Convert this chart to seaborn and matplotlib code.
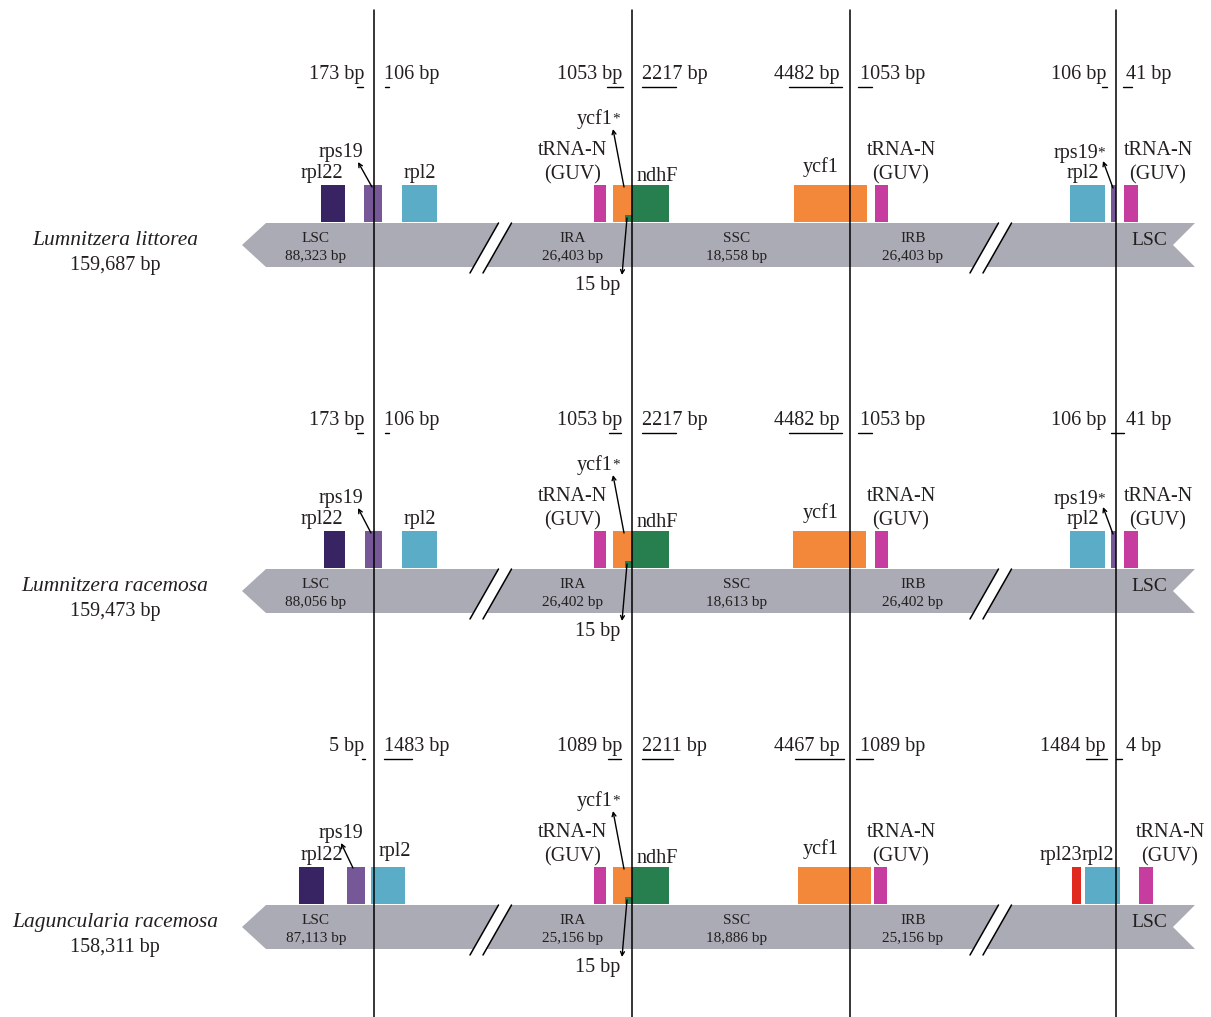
import matplotlib
matplotlib.use("Agg")
import matplotlib.pyplot as plt
from matplotlib.patches import Polygon
import seaborn as sns

# ---------------- data ----------------
species = ["Lumnitzera littorea", "Lumnitzera racemosa", "Laguncularia racemosa"]
genome_bp = ["159,687 bp", "159,473 bp", "158,311 bp"]
lsc_bp = ["88,323 bp", "88,056 bp", "87,113 bp"]
ira_bp = ["26,403 bp", "26,402 bp", "25,156 bp"]
ssc_bp = ["18,558 bp", "18,613 bp", "18,886 bp"]
irb_bp = ["26,403 bp", "26,402 bp", "25,156 bp"]

# junctions JLB, JSB, JSA, JLA (map position)
junctions = [374, 632, 850, 1116]

# distance labels left / right of each junction
dist_left = [["173 bp", "1053 bp", "4482 bp", "106 bp"],
             ["173 bp", "1053 bp", "4482 bp", "106 bp"],
             ["5 bp", "1089 bp", "4467 bp", "1484 bp"]]
dist_right = [["106 bp", "2217 bp", "1053 bp", "41 bp"],
              ["106 bp", "2217 bp", "1053 bp", "41 bp"],
              ["1483 bp", "2211 bp", "1089 bp", "4 bp"]]
# extent of the distance bars (map position)
bar_left = [[(357, 363), (607, 623), (789, 842), (1102, 1107)],
            [(357, 363), (609, 621), (789, 842), (1111, 1116)],
            [(362, 365), (608, 621), (795, 844), (1086, 1107)]]
bar_right = [[(385, 389), (642, 676), (858, 872), (1123, 1132)],
             [(385, 389), (642, 676), (858, 872), (1116, 1124)],
             [(384, 412), (642, 673), (856, 873), (1116, 1122)]]

# genes: (name, start, end) in map position
genes_r1 = [("rpl22", 321, 345), ("rps19", 364, 382), ("rpl2", 402, 437),
            ("trnN", 594, 606), ("ycf1", 613, 632), ("ndhF", 632, 669),
            ("ycf1", 794, 867), ("trnN", 875, 888),
            ("rpl2", 1070, 1105), ("rps19", 1111, 1116), ("trnN", 1124, 1138)]
genes_r2 = [("rpl22", 324, 345), ("rps19", 365, 382), ("rpl2", 402, 437),
            ("trnN", 594, 606), ("ycf1", 613, 632), ("ndhF", 632, 669),
            ("ycf1", 793, 866), ("trnN", 875, 888),
            ("rpl2", 1070, 1105), ("rps19", 1111, 1116), ("trnN", 1124, 1138)]
genes_r3 = [("rpl22", 299, 324), ("rps19", 347, 365), ("rpl2", 371, 405),
            ("trnN", 594, 606), ("ycf1", 613, 632), ("ndhF", 632, 669),
            ("ycf1", 798, 871), ("trnN", 874, 887),
            ("rpl23", 1072, 1081), ("rpl2", 1085, 1120), ("trnN", 1139, 1153)]
genes_rows = [genes_r1, genes_r2, genes_r3]
ndhF_overlap = (625, 632)  # 15 bp

# gene labels: (text, x, baseline offset from band top, ha)
labels_r1 = [("rps19", 363, -66, "right"), ("rpl22", 343, -45, "right"),
             ("rpl2", 420, -45, "center"),
             ("tRNA-N", 572, -68, "center"), ("(GUV)", 573, -44, "center"),
             ("ndhF", 636, -42, "left"), ("ycf1", 821, -51, "center"),
             ("tRNA-N", 901, -68, "center"), ("(GUV)", 901, -44, "center"),
             ("rpl2", 1099, -45, "right"),
             ("tRNA-N", 1158, -68, "center"), ("(GUV)", 1158, -44, "center")]
labels_r2 = [("rps19", 363, -66, "right"), ("rpl22", 343, -45, "right"),
             ("rpl2", 420, -45, "center"),
             ("tRNA-N", 572, -68, "center"), ("(GUV)", 573, -44, "center"),
             ("ndhF", 636, -42, "left"), ("ycf1", 821, -51, "center"),
             ("tRNA-N", 901, -68, "center"), ("(GUV)", 901, -44, "center"),
             ("rpl2", 1099, -45, "right"),
             ("tRNA-N", 1158, -68, "center"), ("(GUV)", 1158, -44, "center")]
labels_r3 = [("rps19", 363, -67, "right"), ("rpl22", 343, -45, "right"),
             ("rpl2", 395, -49, "center"),
             ("tRNA-N", 572, -68, "center"), ("(GUV)", 573, -44, "center"),
             ("ndhF", 636, -42, "left"), ("ycf1", 821, -51, "center"),
             ("tRNA-N", 901, -68, "center"), ("(GUV)", 901, -44, "center"),
             ("rpl23", 1082, -45, "right"), ("rpl2", 1082, -45, "left"),
             ("tRNA-N", 1170, -68, "center"), ("(GUV)", 1170, -44, "center")]
labels_rows = [labels_r1, labels_r2, labels_r3]

# starred labels: (text, right end x, baseline offset)
star_r1 = [("ycf1", 613, -99), ("rps19", 1098, -65)]
star_r2 = [("ycf1", 613, -99), ("rps19", 1098, -65)]
star_r3 = [("ycf1", 613, -99)]
star_rows = [star_r1, star_r2, star_r3]

# pointer arrows: (from x, from dy, to x, to dy)
arrows_r1 = [(372, -36, 358, -61), (624, -36, 613, -94), (627, -5, 622, 52), (1113, -35, 1103, -62)]
arrows_r2 = [(371, -36, 358, -61), (624, -36, 613, -94), (627, -5, 622, 52), (1113, -35, 1103, -62)]
arrows_r3 = [(353, -37, 341, -62), (624, -36, 613, -94), (627, -5, 622, 52)]
arrows_rows = [arrows_r1, arrows_r2, arrows_r3]

# ---------------- style / layout ----------------
gene_colors = {"rpl22": "#382462", "rps19": "#765797", "rpl2": "#5BADC7",
               "trnN": "#C73C9F", "ycf1": "#F3883B", "ndhF": "#277E4F",
               "rpl23": "#E02A20"}
band_color = "#AAABB4"
txt = "#231F20"
band_tops = [223, 569, 905]
dist_dy = [-144, -144, -154]

sns.set_theme(style="white")
plt.rcParams['font.family'] = ['Liberation Serif', 'DejaVu Serif']

W, H = 1211, 1017
fig = plt.figure(figsize=(W / 100, H / 100), dpi=100)
ax = fig.add_axes([0, 0, 1, 1])
ax.set_xlim(0, W)
ax.set_ylim(H, 0)
ax.axis("off")

FS = 14.5
for r in range(3):
    T = band_tops[r]
    # band
    pts = [(242, T + 22), (266, T), (1195, T), (1173, T + 22), (1195, T + 44), (266, T + 44)]
    ax.add_patch(Polygon(pts, closed=True, facecolor=band_color, edgecolor="none", zorder=1))
    # breaks
    for bx in (470, 970):
        gap = [(bx, T + 50), (bx + 28.5, T), (bx + 41.5, T), (bx + 13, T + 50)]
        ax.add_patch(Polygon(gap, closed=True, facecolor="white", edgecolor="none", zorder=2))
        ax.plot([bx, bx + 28.5], [T + 50, T], color="black", lw=1.1, zorder=3)
        ax.plot([bx + 13, bx + 41.5], [T + 50, T], color="black", lw=1.1, zorder=3)
    # band labels
    for name, size, cx in [("LSC", lsc_bp[r], 316), ("IRA", ira_bp[r], 573),
                           ("SSC", ssc_bp[r], 737), ("IRB", irb_bp[r], 913)]:
        ax.text(cx, T + 19, name, ha="center", va="baseline", fontsize=11, color=txt, zorder=4)
        ax.text(cx, T + 37, size, ha="center", va="baseline", fontsize=11, color=txt, zorder=4)
    ax.text(1149, T + 22, "LSC", ha="center", va="baseline", fontsize=14, color=txt, zorder=4)
    # species
    ax.text(115, T + 22, species[r], ha="center", va="baseline", fontsize=15.5,
            style="italic", color=txt)
    ax.text(115, T + 47, genome_bp[r], ha="center", va="baseline", fontsize=FS, color=txt)
    # genes
    for name, s, e in genes_rows[r]:
        ax.bar(s, 37, width=e - s, bottom=T - 38, align="edge",
               color=gene_colors[name], linewidth=0, zorder=2)
    ax.bar(ndhF_overlap[0], 7, width=ndhF_overlap[1] - ndhF_overlap[0], bottom=T - 8,
           align="edge", color=gene_colors["ndhF"], linewidth=0, zorder=2.5)
    # gene labels
    for t, x, dy, ha in labels_rows[r]:
        ax.text(x, T + dy, t, ha=ha, va="baseline", fontsize=FS, color=txt)
    for t, x, dy in star_rows[r]:
        ax.text(x, T + dy, t, ha="right", va="baseline", fontsize=FS, color=txt)
        ax.text(x - 0.5, T + dy - 1, "*", ha="left", va="baseline", fontsize=11, color=txt)
    ax.text(620, T + 67, "15 bp", ha="right", va="baseline", fontsize=FS, color=txt)
    for x0, d0, x1, d1 in arrows_rows[r]:
        ax.annotate("", xy=(x1, T + d1), xytext=(x0, T + d0),
                    arrowprops=dict(arrowstyle="->", lw=1.0, color="black",
                                    mutation_scale=7, shrinkA=0, shrinkB=0), zorder=5)
    # distance labels
    yb = T + dist_dy[r]
    for j, jx in enumerate(junctions):
        ax.text(jx - 10, yb, dist_left[r][j], ha="right", va="baseline", fontsize=FS, color=txt)
        ax.text(jx + 10, yb, dist_right[r][j], ha="left", va="baseline", fontsize=FS, color=txt)
        for a, b in (bar_left[r][j], bar_right[r][j]):
            ax.plot([a, b], [yb + 8, yb + 8], color="black", lw=1.0, zorder=3)

# junction lines
for jx in junctions:
    ax.plot([jx, jx], [10, H], color="black", lw=1.1, zorder=6)

fig.savefig("out.png", dpi=100)
